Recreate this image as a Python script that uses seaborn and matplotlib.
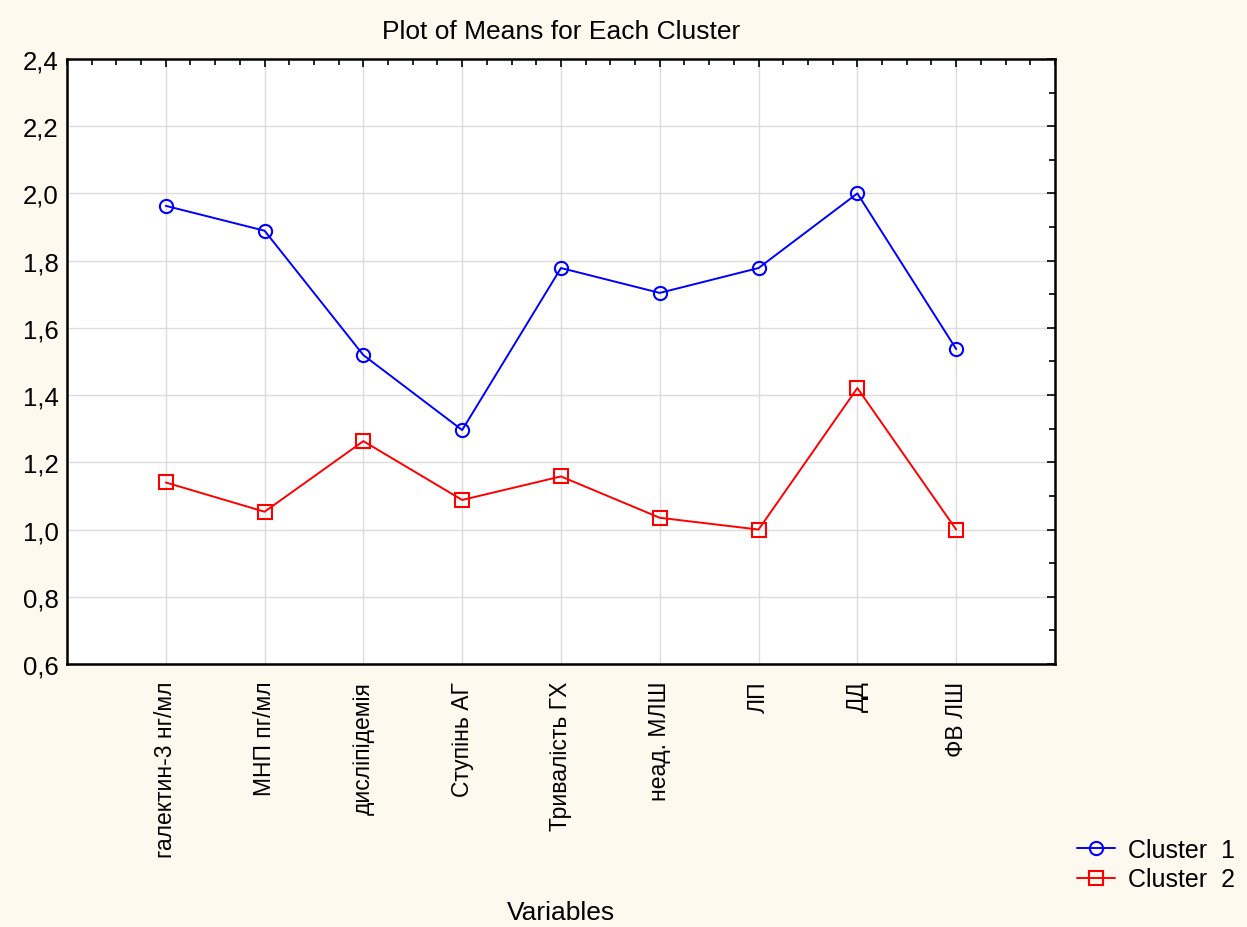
import numpy as np
import pandas as pd
import matplotlib
matplotlib.use("Agg")
import matplotlib.pyplot as plt
import seaborn as sns
from matplotlib.ticker import MultipleLocator, FuncFormatter

variables = ["галектин-3 нг/мл", "МНП пг/мл", "дисліпідемія", "Ступінь АГ",
             "Тривалість ГХ", "неад. МЛШ", "ЛП", "ДД", "ФВ ЛШ"]
cluster1 = [1.963, 1.889, 1.519, 1.296, 1.778, 1.704, 1.778, 2.000, 1.537]
cluster2 = [1.140, 1.053, 1.263, 1.088, 1.158, 1.035, 1.000, 1.421, 1.000]
clusters = ["Cluster  1", "Cluster  2"]
colors = ["#0000ff", "#ff0000"]

df = pd.DataFrame({
    "pos": list(range(len(variables))) * 2,
    "mean": cluster1 + cluster2,
    "cluster": [clusters[0]] * len(variables) + [clusters[1]] * len(variables),
})

sns.set_style("white")
plt.rcParams["font.family"] = ["Liberation Sans", "DejaVu Sans"]
plt.rcParams["text.color"] = "black"
plt.rcParams["axes.labelcolor"] = "black"
plt.rcParams["xtick.color"] = "black"
plt.rcParams["ytick.color"] = "black"

bg = "#fdf9ee"
fig = plt.figure(figsize=(12.47, 9.28), dpi=100, facecolor=bg)
ax = fig.add_axes([0.0537, 0.2834, 0.7923, 0.652])
ax.set_facecolor("white")

sns.lineplot(data=df, x="pos", y="mean", hue="cluster", style="cluster",
             palette=colors, markers=["o", "s"], dashes=False, ax=ax,
             linewidth=1.4, markersize=9.5, markerfacecolor="none",
             markeredgewidth=1.5, legend=False)

for line, c in zip(ax.lines, colors):
    line.set_markerfacecolor("none")
    line.set_markeredgecolor(c)

ax.set_xlim(-1, len(variables))
ax.set_ylim(0.6, 2.4)
ax.set_xticks(range(len(variables)))
ax.set_xticklabels(variables, rotation=90, fontsize=16.5)
ax.xaxis.set_minor_locator(MultipleLocator(0.25))
ax.yaxis.set_major_locator(MultipleLocator(0.2))
ax.yaxis.set_minor_locator(MultipleLocator(0.1))
ax.yaxis.set_major_formatter(FuncFormatter(lambda v, p: f"{v:.1f}".replace(".", ",")))
ax.tick_params(axis="y", labelsize=18.5, pad=6)
ax.tick_params(which="both", direction="in", top=True, right=True,
               color="black", labelcolor="black")
ax.tick_params(which="major", length=6, width=1.2)
ax.tick_params(which="minor", length=4, width=1.2)
ax.tick_params(axis="x", pad=12)
ax.grid(True, which="major", color="#dcdcdc", linewidth=1)
for s in ax.spines.values():
    s.set_color("black")
    s.set_linewidth(1.8)

ax.set_xlabel("")
ax.set_ylabel("")
ax.set_title("Plot of Means for Each Cluster", fontsize=19, pad=15, color="black")
fig.text(0.45, 0.003, "Variables", fontsize=19, ha="center", va="bottom", color="black")

leg = ax.legend(handles=ax.lines[:2], labels=clusters, loc="lower left",
                bbox_to_anchor=(0.854, 0.025), bbox_transform=fig.transFigure,
                frameon=False, fontsize=18, handlelength=1.52, handletextpad=0.52,
                labelspacing=0.22, borderpad=0)
for t in leg.get_texts():
    t.set_color("black")

fig.savefig("out.png", dpi=100, facecolor=bg)
